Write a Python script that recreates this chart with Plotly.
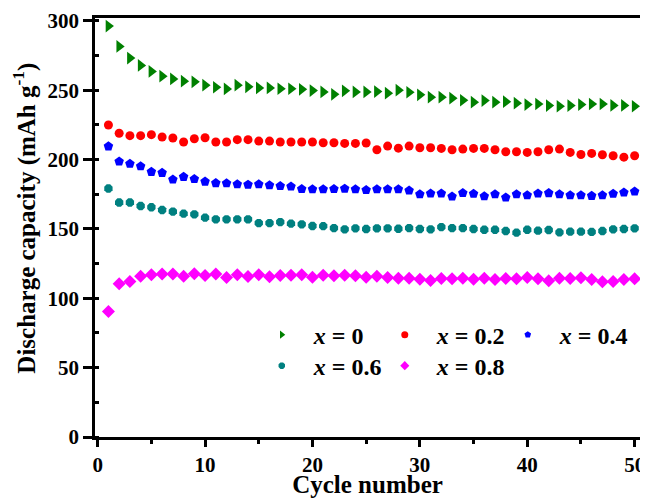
import plotly.graph_objects as go

cycles = list(range(1, 51))

cap_x0 = [296.2, 281.5, 273.1, 267.8, 263.5, 260.1, 258.1, 256.5, 256.0, 253.6,
          252.1, 250.9, 253.6, 252.4, 251.6, 251.6, 251.0, 251.0, 250.6, 249.7,
          248.7, 247.0, 249.5, 248.7, 248.7, 249.0, 247.8, 250.0, 248.5, 246.6,
          244.9, 244.9, 244.2, 242.7, 241.3, 242.5, 241.3, 241.7, 240.6, 239.6,
          240.0, 238.9, 238.4, 238.9, 239.6, 240.0, 240.0, 239.0, 239.0, 238.4]

cap_x02 = [224.9, 218.9, 217.2, 217.2, 217.9, 216.2, 215.5, 212.6, 215.0, 215.7,
           212.6, 212.6, 214.3, 214.3, 213.3, 213.3, 212.6, 212.6, 212.6, 212.6,
           212.1, 212.1, 211.6, 211.6, 211.9, 207.0, 209.7, 208.2, 209.7, 208.5,
           208.5, 208.0, 207.0, 207.5, 208.0, 208.0, 207.0, 205.6, 205.6, 205.1,
           205.6, 207.0, 207.5, 205.1, 203.6, 204.4, 203.4, 202.7, 201.7, 202.7]

cap_x04 = [209.5, 198.6, 196.9, 195.2, 191.1, 190.4, 185.6, 187.5, 186.0, 184.1,
           183.0, 182.9, 182.2, 181.9, 182.2, 181.5, 180.9, 180.5, 178.8, 178.6,
           178.6, 178.8, 179.0, 178.6, 178.0, 178.6, 178.6, 178.6, 177.7, 175.0,
           175.5, 175.5, 173.3, 175.9, 175.3, 173.5, 175.0, 172.6, 175.0, 174.3,
           175.5, 175.8, 175.0, 174.3, 174.3, 173.8, 174.3, 175.3, 176.2, 177.0]

cap_x06 = [179.1, 169.0, 169.0, 166.5, 165.6, 163.6, 162.5, 161.0, 160.5, 158.1,
           156.9, 156.9, 156.9, 156.9, 154.2, 154.2, 154.9, 153.8, 153.3, 152.1,
           152.0, 150.6, 149.7, 150.4, 149.9, 150.4, 150.4, 150.1, 150.6, 149.9,
           149.7, 151.3, 150.6, 150.6, 149.9, 149.4, 149.4, 148.5, 147.3, 149.4,
           148.7, 149.2, 147.5, 148.0, 148.0, 147.8, 148.5, 149.7, 149.9, 150.4]

cap_x08 = [90.4, 110.4, 112.1, 115.9, 116.9, 117.4, 117.4, 115.9, 117.6, 116.4,
           117.4, 115.0, 116.9, 115.7, 116.9, 115.5, 116.4, 116.6, 116.9, 115.2,
           116.6, 116.2, 116.6, 116.2, 115.2, 115.9, 115.0, 114.5, 114.5, 113.7,
           112.8, 114.3, 114.0, 114.5, 113.7, 114.5, 113.5, 114.3, 114.0, 115.0,
           114.0, 112.6, 114.5, 114.3, 114.7, 113.5, 111.9, 112.1, 113.5, 114.0]

series_names = ["<i>x</i> = 0", "<i>x</i> = 0.2", "<i>x</i> = 0.4", "<i>x</i> = 0.6", "<i>x</i> = 0.8"]
series_values = [cap_x0, cap_x02, cap_x04, cap_x06, cap_x08]
colors = ["#008000", "#FF0000", "#0000FF", "#008080", "#FF00FF"]
symbols = ["triangle-right", "circle", "pentagon", "octagon", "diamond"]
sizes = [11, 9, 10, 9, 10]
legend_ids = ["legend", "legend", "legend", "legend2", "legend2"]

FONT = "Liberation Serif, Times New Roman, serif"

fig = go.Figure()
for name, vals, c, s, sz, lg in zip(series_names, series_values, colors, symbols, sizes, legend_ids):
    fig.add_trace(go.Scatter(
        x=cycles, y=vals, mode="markers", name=name, showlegend=False,
        marker=dict(symbol=s, size=sz, color=c, line=dict(width=0)),
    ))
    # legend entry with smaller marker, as in the reference
    fig.add_trace(go.Scatter(
        x=[None], y=[None], mode="markers", name="&nbsp;&nbsp;" + name, legend=lg,
        marker=dict(symbol=s, size=7, color=c, line=dict(width=0)),
    ))

legend_common = dict(
    orientation="h", xanchor="left", yanchor="top",
    bgcolor="rgba(0,0,0,0)", borderwidth=0,
    font=dict(family=FONT, size=24, color="black", weight="bold"),
    entrywidthmode="pixels", entrywidth=78, itemsizing="trace",
)

# the page body adds an 8px offset; size and margins compensate so the frame sits where the reference has it
fig.update_layout(
    width=640, height=490,
    margin=dict(l=87, r=8, t=10, b=61, autoexpand=False),
    paper_bgcolor="white", plot_bgcolor="white",
    font=dict(family=FONT, color="black"),
    legend=dict(x=0.306, y=0.297, **legend_common),
    legend2=dict(x=0.306, y=0.223, **legend_common),
)

fig.update_xaxes(
    range=[-0.25, 50.5], tickmode="linear", tick0=0, dtick=10,
    ticks="outside", ticklen=7, tickwidth=2.5, tickcolor="black",
    minor=dict(dtick=5, ticks="outside", ticklen=4, tickwidth=2.5, tickcolor="black"),
    showline=True, linewidth=2.5, linecolor="black", mirror=True,
    showgrid=False, zeroline=False, automargin=False,
    tickfont=dict(family=FONT, size=21, color="black", weight="bold"),
    title=dict(text="Cycle number", standoff=0,
               font=dict(family=FONT, size=25, color="black", weight="bold")),
)

fig.update_yaxes(
    range=[0, 302], tickmode="linear", tick0=0, dtick=50,
    ticks="outside", ticklen=9, tickwidth=2.5, tickcolor="black",
    minor=dict(dtick=25, ticks="inside", ticklen=4, tickwidth=2.5, tickcolor="black"),
    showline=True, linewidth=2.5, linecolor="black", mirror=True,
    showgrid=False, zeroline=False, automargin=False,
    tickfont=dict(family=FONT, size=21, color="black", weight="bold"),
    title=dict(text="&nbsp;&nbsp;&nbsp;Discharge capacity (mAh g<sup>-1</sup>)", standoff=9,
               font=dict(family=FONT, size=25, color="black", weight="bold")),
)

fig.write_html("out.html")
